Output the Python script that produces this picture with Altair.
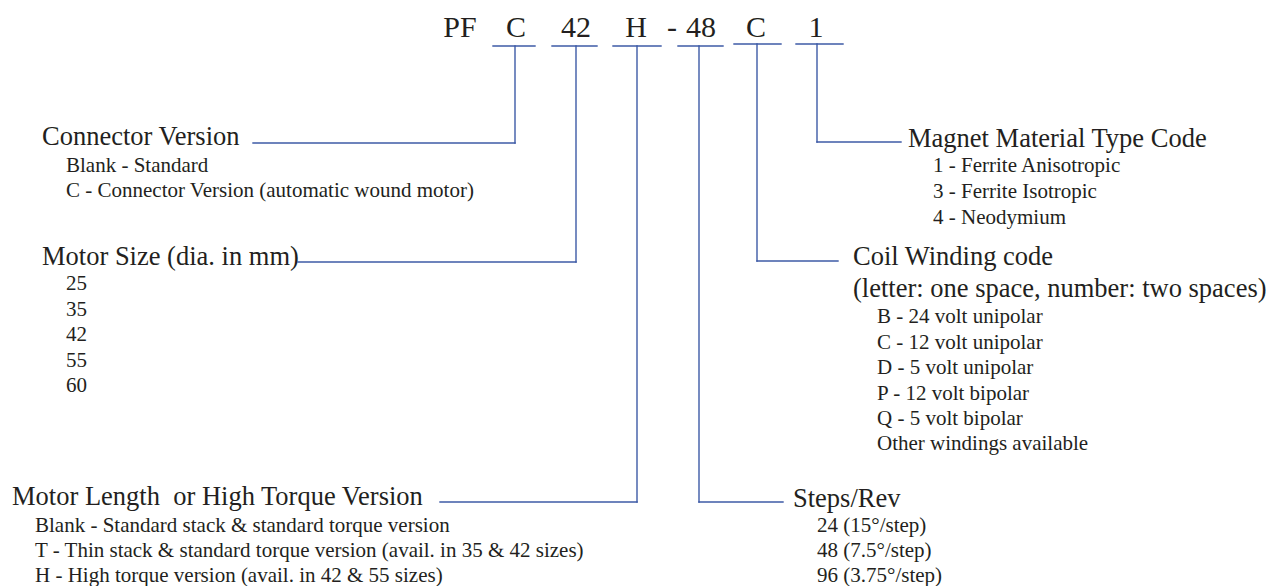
import altair as alt
import pandas as pd

# ---------------- content ----------------
code_labels = ["PF", "C", "42", "H", "-", "48", "C", "1"]

connector_title = "Connector Version"
connector_items = ["Blank - Standard", "C - Connector Version (automatic wound motor)"]

size_title = "Motor Size (dia. in mm)"
size_items = ["25", "35", "42", "55", "60"]

length_title = "Motor Length\u00a0 or High Torque Version"
length_items = [
    "Blank - Standard stack & standard torque version",
    "T - Thin stack & standard torque version (avail. in 35 & 42 sizes)",
    "H - High torque version (avail. in 42 & 55 sizes)",
]

magnet_title = "Magnet Material Type Code"
magnet_items = ["1 - Ferrite Anisotropic", "3 - Ferrite Isotropic", "4 - Neodymium"]

coil_title = "Coil Winding code"
coil_subtitle = "(letter: one space, number: two spaces)"
coil_items = [
    "B - 24 volt unipolar",
    "C - 12 volt unipolar",
    "D - 5 volt unipolar",
    "P - 12 volt bipolar",
    "Q - 5 volt bipolar",
    "Other windings available",
]

steps_title = "Steps/Rev"
steps_items = ["24 (15°/step)", "48 (7.5°/step)", "96 (3.75°/step)"]

# ---------------- layout (page pixel coordinates) ----------------
W, H = 1258, 578
code_x = [460, 516, 576, 636, 672, 701, 756, 816]
code_y = 37

title_rows = [
    (connector_title, 42, 145),
    (size_title, 42, 265),
    (length_title, 12, 505),
    (magnet_title, 908, 147),
    (coil_title, 853, 265),
    (coil_subtitle, 853, 297),
    (steps_title, 793, 507),
]

item_groups = [
    (connector_items, 66, [172, 197]),
    (size_items, 66, [290, 316, 341, 367, 392]),
    (length_items, 35, [532, 557, 582]),
    (magnet_items, 933, [172, 198, 224]),
    (coil_items, 877, [323, 348.5, 374, 399.5, 425, 450]),
    (steps_items, 817, [532, 557, 582]),
]

underlines = [(493, 535, 46), (552, 597, 46), (613, 661, 46),
              (678, 723, 46), (734, 781, 44), (796, 843, 44)]
verticals = [(515, 46, 143), (576, 46, 262), (637, 46, 502),
             (699, 46, 502), (757, 44, 261), (817, 44, 142)]
horizontals = [(253, 515, 143), (298, 576, 262), (440, 637, 502),
               (699, 783, 502), (757, 838, 261), (817, 901, 142)]

# ---------------- tables ----------------
codes_df = pd.DataFrame({"label": code_labels, "x": code_x, "y": [code_y] * len(code_labels)})
titles_df = pd.DataFrame(title_rows, columns=["label", "x", "y"])
items_rows = []
for labels, gx, ys in item_groups:
    for lab, yy in zip(labels, ys):
        items_rows.append((lab, gx, yy))
items_df = pd.DataFrame(items_rows, columns=["label", "x", "y"])

rule_rows = []
for a, b, yy in underlines:
    rule_rows.append((a, b, yy, yy))
for xx, a, b in verticals:
    rule_rows.append((xx, xx, a, b))
for a, b, yy in horizontals:
    rule_rows.append((a, b, yy, yy))
rules_df = pd.DataFrame(rule_rows, columns=["x", "x2", "y", "y2"])

xs = alt.Scale(domain=[8, 8 + W], nice=False, zero=False)
ys = alt.Scale(domain=[8, 8 + H], nice=False, zero=False, reverse=True)

TEXT = "#231f20"
BLUE = "#3d5aa6"
FONT = "Liberation Serif"


def text_layer(df, size, align="left"):
    return alt.Chart(df).mark_text(
        align=align, baseline="alphabetic", font=FONT, fontSize=size, color=TEXT
    ).encode(
        x=alt.X("x:Q", scale=xs, axis=None),
        y=alt.Y("y:Q", scale=ys, axis=None),
        text="label:N",
    )


rules = alt.Chart(rules_df).mark_rule(color=BLUE, strokeWidth=1.4, strokeCap="square").encode(
    x=alt.X("x:Q", scale=xs, axis=None),
    x2="x2:Q",
    y=alt.Y("y:Q", scale=ys, axis=None),
    y2="y2:Q",
)

chart = alt.layer(
    rules,
    text_layer(codes_df, 30, "center"),
    text_layer(titles_df, 26.5),
    text_layer(items_df, 21),
).properties(
    width=W, height=H, padding=0, autosize="none", background="white"
).configure_view(strokeWidth=0)

chart.save("out.html", embed_options={"renderer": "svg", "actions": False})
